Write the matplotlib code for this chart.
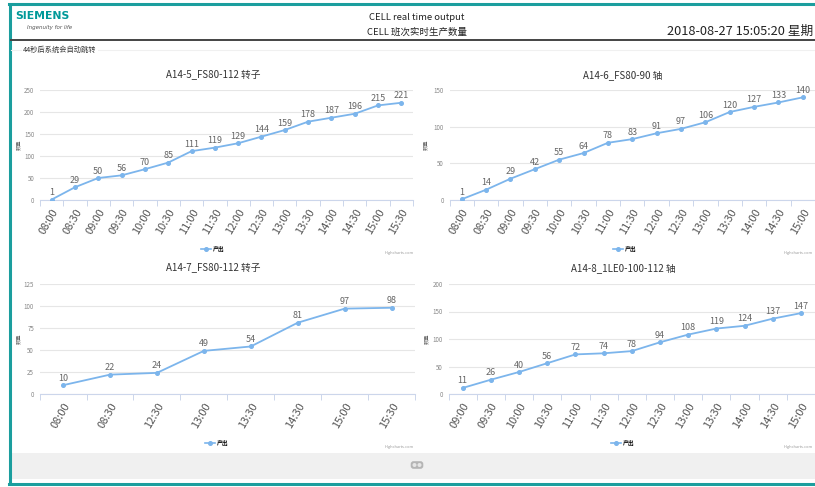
import matplotlib
matplotlib.use("Agg")
import numpy as np
import matplotlib.pyplot as plt
from matplotlib.patches import Rectangle, FancyBboxPatch, Circle
from matplotlib.lines import Line2D

plt.rcParams['font.family'] = ['Noto Sans CJK SC', 'DejaVu Sans']
NARROW = ['Liberation Sans Narrow', 'Noto Sans CJK SC']

# data
times1 = ['08:00', '08:30', '09:00', '09:30', '10:00', '10:30', '11:00', '11:30',
          '12:00', '12:30', '13:00', '13:30', '14:00', '14:30', '15:00', '15:30']
vals1 = [1, 29, 50, 56, 70, 85, 111, 119, 129, 144, 159, 178, 187, 196, 215, 221]
title1 = 'A14-5_FS80-112 转子'

times2 = ['08:00', '08:30', '09:00', '09:30', '10:00', '10:30', '11:00', '11:30',
          '12:00', '12:30', '13:00', '13:30', '14:00', '14:30', '15:00']
vals2 = [1, 14, 29, 42, 55, 64, 78, 83, 91, 97, 106, 120, 127, 133, 140]
title2 = 'A14-6_FS80-90 轴'

times3 = ['08:00', '08:30', '12:30', '13:00', '13:30', '14:30', '15:00', '15:30']
vals3 = [10, 22, 24, 49, 54, 81, 97, 98]
title3 = 'A14-7_FS80-112 转子'

times4 = ['09:00', '09:30', '10:00', '10:30', '11:00', '11:30', '12:00',
          '12:30', '13:00', '13:30', '14:00', '14:30', '15:00']
vals4 = [11, 26, 40, 56, 72, 74, 78, 94, 108, 119, 124, 137, 147]
title4 = 'A14-8_1LE0-100-112 轴'

series_name = '产出'
yname = '数量'

W, H = 815, 487
LINE = '#7cb5ec'
TEAL = '#1b9e9e'

fig = plt.figure(figsize=(W / 100, H / 100), dpi=100)
fig.patch.set_facecolor('white')

# background layer in pixel coordinates
bg = fig.add_axes([0, 0, 1, 1])
bg.set_xlim(0, W)
bg.set_ylim(H, 0)
bg.axis('off')

# outer teal frame
bg.plot([10, 10], [3, 484], color=TEAL, lw=2.2, solid_capstyle='butt')
bg.plot([9, W], [3.5, 3.5], color=TEAL, lw=2.2)
bg.plot([9, W], [483.5, 483.5], color=TEAL, lw=2.2)

# header
bg.text(15, 16, 'SIEMENS', fontsize=7.8, fontweight='bold', color='#009999',
        family='DejaVu Sans', va='center', ha='left')
bg.text(27, 28, 'Ingenuity for life', fontsize=4, style='italic', color='#555',
        family='DejaVu Sans', va='center', ha='left')
bg.text(417, 18, 'CELL real time output', fontsize=6.8, color='#222',
        family=NARROW, ha='center', va='center')
bg.text(417, 32, 'CELL 班次实时生产数量', fontsize=6.8, color='#222',
        family=NARROW, ha='center', va='center')
bg.text(813, 31, '2018-08-27 15:05:20 星期', fontsize=9.2, color='#222',
        family=NARROW, ha='right', va='center')
bg.plot([11, W], [39.5, 39.5], color='#444', lw=1.4)
bg.plot([11, W], [50, 50], color='#f0f0f0', lw=0.8)
bg.text(23, 50, '44秒后系统会自动跳转', fontsize=5.2, color='#333', ha='left', va='center',
        bbox=dict(facecolor='white', edgecolor='none', pad=1))

# bottom bar with pager pill
bg.add_patch(Rectangle((11, 453), W - 11, 26, facecolor='#f0f0f0', edgecolor='none'))
bg.add_patch(FancyBboxPatch((412, 462.5), 10, 5, boxstyle='round,pad=1.3,rounding_size=2.8',
                            facecolor='#b5b5b5', edgecolor='none'))
bg.add_patch(Circle((414.5, 465), 2.0, facecolor='#e6e6e6', edgecolor='none'))
bg.add_patch(Circle((419.5, 465), 2.0, facecolor='#e6e6e6', edgecolor='none'))


def chart(box, times, vals, ymax, ystep, title, title_xy, legend_xy, ylabel_xy, credit_xy):
    l, t, r, b = box
    ax = fig.add_axes([l / W, 1 - b / H, (r - l) / W, (b - t) / H])
    ax.set_facecolor('none')
    x = np.arange(len(times))
    ax.plot(x, vals, color=LINE, lw=1.3, marker='o', markersize=2.6, zorder=3)
    for xi, v in zip(x, vals):
        ax.annotate(str(v), (xi, v), xytext=(0, 1.8), textcoords='offset points',
                    ha='center', va='bottom', fontsize=6.5, color='#666', family=NARROW)
    ax.set_xlim(-0.5, len(times) - 0.5)
    ax.set_ylim(0, ymax)
    ax.set_yticks(np.arange(0, ymax + 1, ystep))
    ax.tick_params(axis='y', length=0, pad=4, labelsize=4.5, labelcolor='#888')
    ax.grid(axis='y', color='#e6e6e6', lw=0.8)
    ax.set_axisbelow(True)
    ax.set_xticks(x, times, rotation=60, ha='right', rotation_mode='anchor',
                  fontsize=8, color='#555', family=NARROW)
    ax.set_xticks(np.arange(-0.5, len(times)), minor=True)
    ax.tick_params(axis='x', which='major', length=0, pad=5)
    ax.tick_params(axis='x', which='minor', length=4, color='#ccd6eb', width=0.7)
    for s in ['top', 'right', 'left']:
        ax.spines[s].set_visible(False)
    ax.spines['bottom'].set_color('#ccd6eb')
    ax.spines['bottom'].set_linewidth(0.8)

    bg.text(title_xy[0], title_xy[1], title, fontsize=7, color='#333', family=NARROW,
            ha='center', va='center')
    bg.text(ylabel_xy[0], ylabel_xy[1], yname, fontsize=3.8, color='#666',
            rotation=90, ha='center', va='center')
    bg.text(credit_xy[0], credit_xy[1], 'Highcharts.com', fontsize=2.8, color='#999',
            ha='right', va='center')
    handle = Line2D([], [], color=LINE, lw=1.2, marker='o', markersize=2.6)
    ax.legend([handle], [series_name], loc='center',
              bbox_to_anchor=(legend_xy[0] / W, 1 - legend_xy[1] / H),
              bbox_transform=fig.transFigure, frameon=False,
              prop={'size': 4.2, 'weight': 'bold'}, handlelength=1.6,
              handletextpad=0.4, borderpad=0)
    return ax


chart((40, 90, 413, 200), times1, vals1, 250, 50, title1,
      (213, 75), (213, 249), (19, 145), (414, 253))
chart((449.5, 90, 815, 200), times2, vals2, 150, 50, title2,
      (623, 75), (625, 249), (426, 145), (813, 253))
chart((39.6, 284, 415, 394), times3, vals3, 125, 25, title3,
      (213, 268), (217, 443), (19, 339), (414, 447))
chart((448.6, 284, 815, 394), times4, vals4, 200, 50, title4,
      (623, 268), (623, 443), (427, 339), (813, 447))

plt.savefig('out.png', dpi=100)
